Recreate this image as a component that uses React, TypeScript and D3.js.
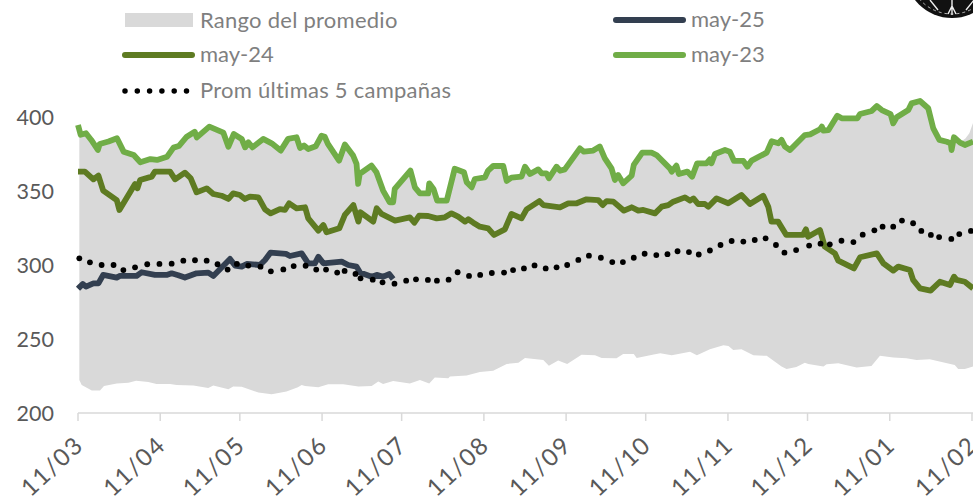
import * as d3 from "d3";

type Pt = [number, number];

// [days since 11/03, value]
const may23: Pt[] = [[0,394.6],[1,388],[3,389],[5,384.5],[7.5,377.7],[8.2,381.8],[11.5,383.4],[14.7,385.6],[17.2,376.6],[21,374.3],[23.5,369.4],[27.3,371.6],[29.8,371],[33.6,373.2],[36,379.3],[38,380.4],[41,386.7],[44,390],[44.8,386.2],[49.5,393.5],[54.8,389.4],[56.7,379.9],[58.7,388.5],[61.7,385.2],[63,379.5],[64.2,382.9],[65.8,379.5],[69.8,385.2],[73,382.2],[76.4,377.3],[79.2,385.2],[82.4,386.3],[83.7,379.1],[85.2,380.7],[86.8,378.4],[89.6,380.2],[91.8,387.4],[93,386.7],[94.2,381.8],[98.4,370.5],[100.6,381.4],[103.7,374],[105,368.3],[105.6,354.8],[106.2,361.6],[110.6,367.2],[112.5,362.7],[115,350.3],[117.5,342.4],[118.8,342.4],[119.4,351.4],[125.3,363.8],[127,352.5],[128.9,348.4],[132,348.4],[132.4,355.2],[134,351.4],[135.4,343.5],[139,343.5],[142,365],[145.5,362.7],[146.5,356],[148.4,352.5],[149.6,358.1],[153.4,359.2],[154.6,363.8],[156.5,366.9],[160.3,366.9],[161.6,356.8],[163.4,359],[167.2,359.7],[168.5,366.4],[170.4,361.5],[173.5,364.6],[174.8,361.9],[176.6,361.9],[177.5,358.6],[180.4,366.4],[181.7,363.7],[183.5,364.6],[189.2,378.8],[190.7,376.6],[194.2,377.3],[196.7,380],[198.6,372.1],[201.1,365.3],[202.4,357.4],[203.6,360.8],[205.5,355.2],[208.7,360.4],[209.5,367.6],[212.7,375.9],[216.2,375.9],[218.1,374.3],[223.1,365.3],[223.8,363.1],[225.6,367.1],[226.5,361.5],[229.7,363.1],[231.5,359.7],[233.4,368.7],[236.9,368.7],[238.2,371.4],[238.8,368.7],[240.1,375],[243.9,377.7],[245.7,376.6],[247.3,370.3],[250.8,370.3],[252.3,366.4],[253.9,370.5],[259.6,375.9],[261.5,383.6],[264,382.2],[265.2,384.5],[266.5,380],[268.4,377.7],[274,387.8],[276,388.3],[279.7,391.7],[280.4,393.5],[281,390.8],[282.9,391.2],[286.2,400.9],[287.9,399.1],[293.8,399.1],[294.8,402],[299.2,404.1],[301.1,407.4],[303,404.7],[306.3,402],[307.3,395.7],[308.6,399.8],[313,404.7],[314.2,409.2],[317.4,410.8],[320.5,405.9],[322.4,392.3],[324.7,384.5],[327.5,383.3],[329,382.2],[329.3,377.7],[330.2,386.3],[332.5,382.7],[334.3,381.1],[337.4,383.3]];

const may24: Pt[] = [[0,363.1],[2.6,363.1],[5.8,357.9],[7.7,360.4],[9.5,350.2],[14.6,343.9],[15.6,337.2],[21.5,354.7],[22.4,351.8],[23.4,357.4],[27.8,359.7],[29,363.1],[34.7,363.1],[36.6,357.9],[40.3,362.4],[42.5,358.6],[44.7,349.1],[48.5,351.8],[51,348],[54.1,346.8],[56.7,344.6],[58.5,348.4],[61,347.3],[62.9,344.6],[64.8,346.2],[68,345.7],[70.5,337.6],[72.6,334.9],[76.1,337.8],[78,337.2],[79.6,341.7],[82.4,338.3],[85.6,339],[86.8,331.5],[90.6,323.2],[92.5,327],[93.7,322.1],[98.5,324.8],[100.6,333.8],[103.8,340.5],[105.7,329.3],[106.5,335.6],[111.3,329.3],[112.6,338.3],[114.4,334.5],[119.5,330],[125.1,332.2],[126.8,328.6],[128.6,333.3],[132,333.1],[135.2,331.5],[138.3,332.2],[140.8,334.9],[143.3,332.7],[145.9,329.3],[147.1,330.9],[149,328.6],[151.5,325.9],[154.6,324.8],[156.8,320.3],[160.9,324.1],[163.4,334.5],[167.2,331.5],[169.1,337.6],[173.9,343.2],[175.4,340.5],[181.7,339],[184.8,341.7],[188,341.7],[191.7,344.4],[196.1,343.9],[197.8,340.5],[199.3,343.2],[201.8,342.8],[205.8,336.7],[208.7,339],[211.2,336.7],[213.1,337.2],[217.5,334.9],[220,339.4],[222.5,340.5],[224.4,342.8],[228.8,345.7],[230.7,343.5],[232,345],[233.8,341.2],[236.3,341.2],[237.6,339.4],[240.7,345],[245.1,341.7],[250.1,347.3],[253.3,341.2],[258.3,346.8],[260.2,339.4],[261.4,329.3],[263.9,329.3],[267,320.3],[273.3,320.3],[274.4,324.1],[275.2,319.1],[279.7,323.6],[281.5,312.4],[285.3,307.9],[286.6,302.9],[292.5,297.7],[294.8,305.2],[301.1,307.9],[303.6,301.1],[307.3,296.2],[309.2,298.9],[313.6,296.6],[314.8,289.9],[317.4,284.2],[321.4,282.7],[324.9,288.7],[328.7,286.5],[330.2,292.1],[331.2,289.9],[334.3,288.7],[337.4,284.2]];

const may25: Pt[] = [[0,284],[0.5,284.9],[1.8,287.2],[3,285.4],[5.8,287.6],[7.7,287.6],[9.5,293.3],[14.6,291.5],[15.8,292.6],[22.1,292.6],[24,295.1],[29,293.3],[33.4,293.3],[35.3,294.4],[37.8,293.1],[40.3,291.5],[44.7,294.4],[49.1,294.9],[51,292.6],[57.3,304.1],[59.2,299.6],[61.7,298.9],[63.6,300.7],[68.6,300],[70.5,303.4],[72.6,308.4],[78.4,307.5],[79.9,306.1],[84.3,307.9],[86.8,301.1],[89.3,301.1],[90.6,305.6],[92.5,301.1],[99.4,302.3],[101.9,300],[105,298.9],[106.3,294.9],[110.7,292.1],[112.6,293.3],[115.1,292.1],[117.3,293.9],[118.8,290.5]];

const promedio: Pt[] = [[0.5,304.5],[4.5,301.8],[8.9,300],[13.4,300],[17.1,296.6],[21.5,298.4],[26.1,300.5],[30.7,300.7],[35.3,300.9],[39.7,302.9],[44.1,303.2],[48.5,302.9],[52.6,300.5],[56.4,296.9],[59.9,300.7],[64.2,299.6],[68.8,298.9],[72.7,295.7],[77.4,297],[81.3,299.3],[85.8,299.5],[89.8,296.9],[93.5,296.9],[97.7,294.9],[100.5,296],[104.6,294],[106.5,291],[111.1,290.1],[114.8,288.3],[119.3,287.4],[123.7,289.4],[127.4,290.3],[131.9,289.9],[135.3,289.4],[139.7,290.1],[143.1,295.1],[147.4,292.6],[151.6,293.3],[156,294.6],[160.6,294.9],[164,296.6],[168.1,297.7],[172.1,299.7],[176.3,297.7],[180.4,298.4],[184.4,300],[188.6,303.4],[192.6,306.3],[197.1,304.9],[201.4,302],[205.4,302],[209.5,304.9],[213.6,307.6],[218,306.7],[222.2,307.3],[226,309.3],[230.3,308.7],[234,307.1],[238.2,309.8],[242.2,313.5],[246.4,316.2],[250.8,315.8],[255.1,316.9],[259.2,318],[263.1,313.5],[266.3,308.3],[270.7,310.1],[275.6,313.1],[279.9,314.4],[283.4,314],[287.8,316.4],[292.3,315.5],[295.8,320.5],[300.2,323.4],[303.3,325.9],[307.3,325.9],[310.6,330],[314.8,328.2],[317.9,323],[321.5,320.3],[324.6,318.9],[329.2,317.6],[332.2,320.9],[336.6,323]];

// top of the range runs with may-23 until it lifts off at the very end
const rangoTail: Pt[] = [[332.5,383],[334.5,385.5],[336,389],[337.4,396]];
const rangoUpper: Pt[] = [[0.5, 392], ...may23.filter(d => d[0] > 0.5 && d[0] < 332), ...rangoTail];

const rangoLower: Pt[] = [[0.5,222.3],[1.4,219],[5.2,215.2],[8.3,215.2],[9.8,218.3],[14.6,220],[19,220.5],[21.9,221.8],[26.5,220.9],[29.6,219.6],[34.7,219.6],[37.2,219],[43.5,218.5],[49.1,216.9],[51,218.5],[56.7,216],[58.5,217.9],[61.7,217.7],[68,213.8],[73,212.7],[78.6,214.5],[82.9,217.4],[84.3,219],[85.6,218.3],[90.6,217.4],[94.3,219.5],[100,219.5],[105.7,217.9],[110.7,218.3],[113.2,221.2],[115,219.6],[118.8,221.6],[125.1,220],[128.9,222.3],[132.4,220],[134.5,224],[139.6,223.4],[140.2,224.7],[146.5,225.4],[151.5,227.7],[156.5,228.6],[161.6,233.1],[166,234],[168.5,237.2],[175.4,235.8],[177.5,232],[181,235.4],[184.4,233.1],[189.8,239.4],[194.9,239],[197.4,237.2],[203,237],[205.5,239.9],[209.5,239.9],[210.6,237.2],[217,239.6],[219.5,240.3],[223.8,239],[230.7,241.4],[233.3,239],[238.2,243],[243.3,245.7],[245.2,245.3],[247,242.6],[250.1,243],[254.6,239],[259.6,238.6],[265.2,231.4],[267.1,229.8],[270.8,231],[274,234],[275.3,233.1],[281,231.4],[282.2,233],[286.6,233.6],[293.5,230.7],[299.1,231.8],[302.3,238.6],[307.3,237.5],[312.3,237],[316.1,235.8],[321.1,236.3],[326.8,234],[330.5,232.4],[331.8,229.8],[334.3,229.8],[337.4,231.4]];

const tickDays = [0, 31, 61, 92, 122, 153, 184, 214, 245, 275, 306, 337];
const tickLabels = ["11/03", "11/04", "11/05", "11/06", "11/07", "11/08", "11/09", "11/10", "11/11", "11/12", "11/01", "11/02"];
const yTicks = [200, 250, 300, 350, 400];

const FONT = "Lato, 'Open Sans', sans-serif";
const GRIS = "#D9D9D9";
const OSCURO = "#5E7B22";
const CLARO = "#70AD47";
const NAVY = "#333F50";

const x = d3.scaleLinear().domain([0, 337]).range([78, 972]);
const y = d3.scaleLinear().domain([200, 400]).range([413, 117]);

const line = d3.line<Pt>().x(d => x(d[0])).y(d => y(d[1]));

// band: upper edge left to right, lower edge back
const bandPath =
  "M" +
  rangoUpper.map(d => `${x(d[0])},${y(d[1])}`).join("L") +
  "L" +
  [...rangoLower].reverse().map(d => `${x(d[0])},${y(d[1])}`).join("L") +
  "Z";

const seriesLines = [
  { data: may24, color: OSCURO },
  { data: may23, color: CLARO },
  { data: may25, color: NAVY },
];

const LegendLine = ({ x0, yy, color, label }: { x0: number; yy: number; color: string; label: string }) => (
  <g>
    <line x1={x0} x2={x0 + 67} y1={yy} y2={yy} stroke={color} strokeWidth={6} strokeLinecap="round" />
    <text x={x0 + 75} y={yy + 7} fontSize={22} fill="#7F7F7F">{label}</text>
  </g>
);

export default function App() {
  return (
    <svg
      width={973}
      height={504}
      style={{ position: "absolute", left: 0, top: 0, fontFamily: FONT }}
    >
      <path d={bandPath} fill={GRIS} />

      {seriesLines.map(s => (
        <path
          key={s.color}
          d={line(s.data) ?? ""}
          fill="none"
          stroke={s.color}
          strokeWidth={5.8}
          strokeLinejoin="round"
        />
      ))}

      {promedio.map(d => (
        <circle key={d[0]} cx={x(d[0])} cy={y(d[1])} r={2.9} fill="#000" />
      ))}

      {/* y axis labels */}
      {yTicks.map(t => (
        <text key={t} x={54} y={y(t)} dy="0.35em" textAnchor="end" fontSize={21.5} fill="#595959">{t}</text>
      ))}

      {/* x axis */}
      <line x1={x(0)} x2={973} y1={413} y2={413} stroke={GRIS} strokeWidth={1.5} />
      {tickDays.map((t, i) => (
        <g key={t} transform={`translate(${x(t)},413)`}>
          <line y2={8} stroke={GRIS} strokeWidth={1.5} />
          <text
            transform="translate(7,34) rotate(-43)"
            textAnchor="end"
            fontSize={24}
            letterSpacing={1.6}
            fill="#595959"
          >
            {tickLabels[i]}
          </text>
        </g>
      ))}

      {/* legend */}
      <rect x={125} y={13} width={68} height={14} fill={GRIS} />
      <text x={200} y={28} fontSize={22} letterSpacing={0.25} fill="#7F7F7F">Rango del promedio</text>
      <LegendLine x0={616} yy={20} color={NAVY} label="may-25" />
      <LegendLine x0={125} yy={55} color={OSCURO} label="may-24" />
      <LegendLine x0={616} yy={55} color={CLARO} label="may-23" />
      <line x1={125} x2={187} y1={91} y2={91} stroke="#000" strokeWidth={5.5} strokeLinecap="round" strokeDasharray="0 12.3" />
      <text x={200} y={98} fontSize={22} letterSpacing={0.25} fill="#7F7F7F">Prom últimas 5 campañas</text>

      {/* logo corner */}
      <circle cx={952} cy={-29} r={47} fill="#111" />
      <circle cx={952} cy={-29} r={43} fill="none" stroke="#ddd" strokeWidth={0.8} strokeDasharray="3 3" />
      <path d="M952 0V15M948 14L952 6L956 14M930 0L938 10M974 0L966 10" fill="none" stroke="#eee" strokeWidth={1.4} />
    </svg>
  );
}
